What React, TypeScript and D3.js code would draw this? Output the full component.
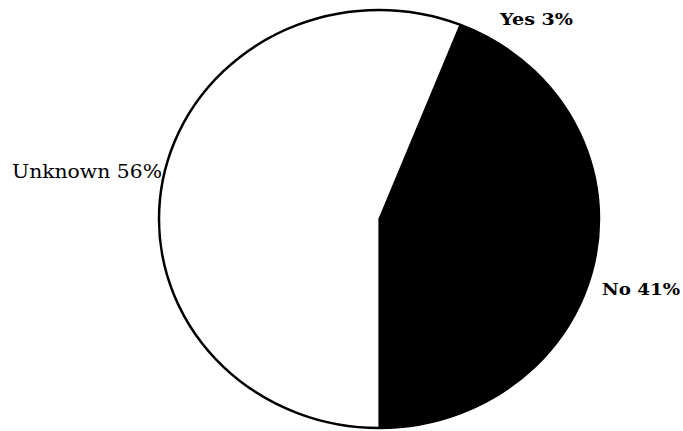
import React from "react";
import * as d3 from "d3";

const categories = ["Unknown", "Yes", "No"];
const values = [56, 3, 41];
const labels = ["Unknown 56%", "Yes 3%", "No 41%"];
const fills = ["#ffffff", "#000000", "#000000"];

export default function App() {
  const W = 683, H = 431;
  const cx = 379, cy = 219, rx = 220, ry = 209;
  const pie = d3.pie<number>().sort(null).startAngle(Math.PI).endAngle(3 * Math.PI);
  const arcs = pie(values);
  const arc = d3.arc<d3.PieArcDatum<number>>().innerRadius(0).outerRadius(rx);
  const labelPos = [
    { x: 12, y: 178, anchor: "start", bold: false, len: 150, size: 18 },
    { x: 500, y: 25, anchor: "start", bold: true, len: 73, size: 17 },
    { x: 602, y: 295, anchor: "start", bold: true, len: 78, size: 17 },
  ];
  return (
    <svg width={W} height={H} style={{ position: "absolute", left: 0, top: 0, background: "#fff" }}>
      <g transform={`translate(${cx},${cy}) scale(1,${ry / rx})`}>
        {arcs.map((a, i) => (
          <path
            key={categories[i]}
            d={arc(a) || ""}
            fill={fills[i]}
            stroke={fills[i] === "#000000" ? "#000" : "none"}
            strokeWidth={1.2}
            vectorEffect="non-scaling-stroke"
          />
        ))}
        <ellipse cx={0} cy={0} rx={rx} ry={rx} fill="none" stroke="#000" strokeWidth={2.5} vectorEffect="non-scaling-stroke" />
      </g>
      {labels.map((t, i) => (
        <text
          key={t}
          x={labelPos[i].x}
          y={labelPos[i].y}
          textAnchor={labelPos[i].anchor as any}
          fontFamily="DejaVu Serif"
          fontWeight={labelPos[i].bold ? "bold" : "normal"}
          fontSize={labelPos[i].size}
          textLength={labelPos[i].len}
          lengthAdjust="spacingAndGlyphs"
          fill="#000"
        >
          {t}
        </text>
      ))}
    </svg>
  );
}
